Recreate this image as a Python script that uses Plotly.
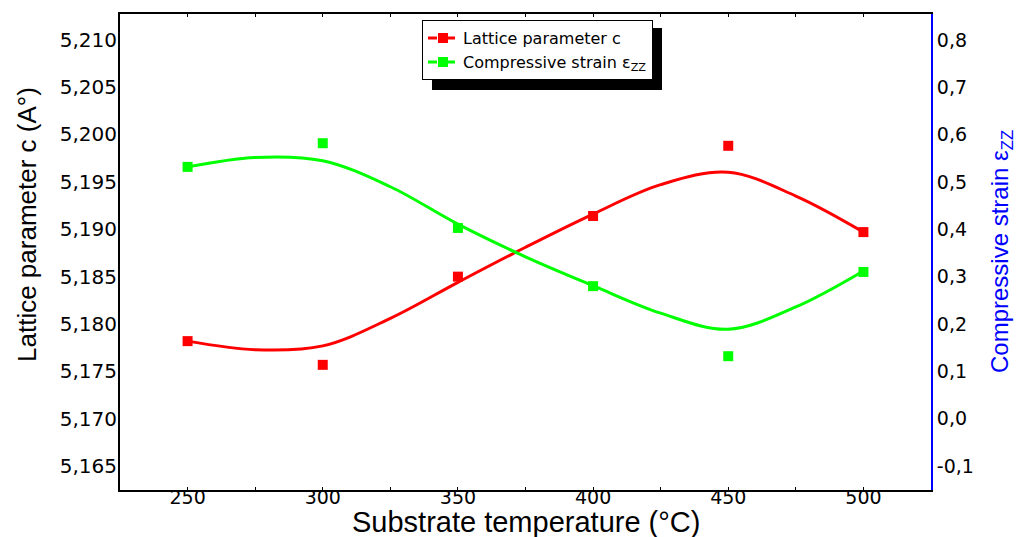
import plotly.graph_objects as go

# ---- data ----
temps = [250, 300, 350, 400, 450, 500]
lattice_c = [5.1782, 5.1757, 5.1850, 5.1914, 5.1988, 5.1897]
strain_zz = [0.532, 0.582, 0.403, 0.280, 0.132, 0.310]

# smooth fit curves
fit_temps = [250, 275, 300, 325, 350, 375, 400, 425, 450, 475, 500]
lattice_fit = [5.1782, 5.1773, 5.1777, 5.1806, 5.1844, 5.1881, 5.1916, 5.1947, 5.1960, 5.1935, 5.1897]
strain_fit = [0.532, 0.552, 0.545, 0.490, 0.411, 0.342, 0.281, 0.223, 0.189, 0.236, 0.312]

x_ticks = [250, 300, 350, 400, 450, 500]
x_tick_labels = ["250", "300", "350", "400", "450", "500"]
left_ticks = [5.165, 5.170, 5.175, 5.180, 5.185, 5.190, 5.195, 5.200, 5.205, 5.210]
left_tick_labels = ["5,165", "5,170", "5,175", "5,180", "5,185", "5,190", "5,195", "5,200", "5,205", "5,210"]
right_ticks = [-0.1, 0.0, 0.1, 0.2, 0.3, 0.4, 0.5, 0.6, 0.7, 0.8]
right_tick_labels = ["-0,1", "0,0", "0,1", "0,2", "0,3", "0,4", "0,5", "0,6", "0,7", "0,8"]

legend_names = ["Lattice parameter c", "Compressive strain ε<sub>ZZ</sub>"]
x_title = "Substrate temperature (°C)"
left_title = "Lattice parameter c (A°)"
right_title = "Compressive strain ε<sub>ZZ</sub>"

RED = "#ff0000"
GREEN = "#00ff00"
BLUE = "#0000ff"
FONT = "Liberation Sans, Arial, sans-serif"
TICKFONT = "DejaVu Sans, Liberation Sans, sans-serif"
LEGFONT = "DejaVu Sans, Liberation Sans, sans-serif"

fig = go.Figure()

# fitted curves
fig.add_trace(go.Scatter(x=fit_temps, y=lattice_fit, mode="lines",
                         line=dict(color=RED, width=3, shape="spline", smoothing=1.0),
                         showlegend=False, yaxis="y"))
fig.add_trace(go.Scatter(x=fit_temps, y=strain_fit, mode="lines",
                         line=dict(color=GREEN, width=3, shape="spline", smoothing=1.0),
                         showlegend=False, yaxis="y2"))
# measured points
fig.add_trace(go.Scatter(x=temps, y=lattice_c, mode="markers",
                         marker=dict(symbol="square", size=10, color=RED),
                         showlegend=False, yaxis="y"))
fig.add_trace(go.Scatter(x=temps, y=strain_zz, mode="markers",
                         marker=dict(symbol="square", size=10, color=GREEN),
                         showlegend=False, yaxis="y2"))

# legend entries
for name, col in zip(legend_names, [RED, GREEN]):
    fig.add_trace(go.Scatter(x=[None], y=[None], mode="lines+markers", name=name,
                             line=dict(color=col, width=3, dash="dash"),
                             marker=dict(symbol="square", size=10, color=col)))

fig.update_layout(
    width=1021, height=537,
    margin=dict(l=120, r=90, t=14, b=47, autoexpand=False),
    paper_bgcolor="white", plot_bgcolor="white",
    font=dict(family=FONT, color="black"),
    xaxis=dict(
        range=[225, 525], tickvals=x_ticks, ticktext=x_tick_labels,
        showline=True, linecolor="black", linewidth=2, mirror="ticks",
        ticks="inside", ticklen=3, tickcolor="black",
        minor=dict(dtick=25, tick0=250, ticks="inside", ticklen=3, tickcolor="black"),
        showgrid=False, zeroline=False, automargin=False,
        ticklabelstandoff=-11,
        tickfont=dict(family=TICKFONT, size=19, color="black"),
    ),
    yaxis=dict(
        range=[5.1625, 5.2127], tickvals=left_ticks, ticktext=left_tick_labels,
        showline=True, linecolor="black", linewidth=2, ticks="",
        showgrid=False, zeroline=False, automargin=False,
        ticklabelstandoff=-3,
        tickfont=dict(family=TICKFONT, size=20, color="black"),
    ),
    yaxis2=dict(
        range=[-0.1507, 0.855], tickvals=right_ticks, ticktext=right_tick_labels,
        overlaying="y", side="right",
        showline=True, linecolor=BLUE, linewidth=2, ticks="",
        showgrid=False, zeroline=False, automargin=False,
        tickfont=dict(family=TICKFONT, size=19, color="black"),
    ),
    legend=dict(
        x=0.3724, y=0.987, xanchor="left", yanchor="top",
        bgcolor="white", bordercolor="black", borderwidth=1,
        font=dict(family=LEGFONT, size=16, color="black"),
        itemwidth=30, tracegroupgap=0,
    ),
    # drop shadow behind the legend box
    shapes=[dict(type="rect", xref="paper", yref="paper",
                 x0=0.3847, x1=0.6683, y0=0.8403, y1=0.9706,
                 fillcolor="black", line=dict(width=0), layer="above")],
    annotations=[
        dict(text=x_title, xref="paper", yref="paper", x=0.5, y=-0.0672,
             xanchor="center", yanchor="middle", showarrow=False,
             font=dict(family=FONT, size=29, color="black")),
        dict(text=left_title, xref="paper", yref="paper", x=-0.1147, y=0.5588,
             xanchor="center", yanchor="middle", textangle=-90, showarrow=False,
             font=dict(family=FONT, size=26, color="black")),
        dict(text=right_title, xref="paper", yref="paper", x=1.0863, y=0.502,
             xanchor="center", yanchor="middle", textangle=-90, showarrow=False,
             font=dict(family=FONT, size=24, color=BLUE)),
    ],
)

fig.write_html("out.html")
